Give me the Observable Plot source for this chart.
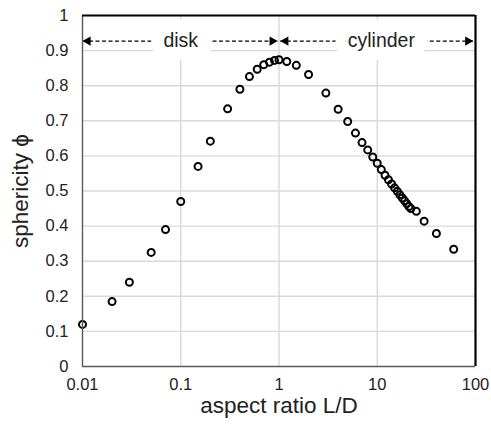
<!DOCTYPE html>
<html>
<head>
<meta charset="utf-8">
<script src="https://cdn.jsdelivr.net/npm/d3@7"></script>
<script src="https://cdn.jsdelivr.net/npm/@observablehq/plot@0.6"></script>
<style>
  html, body { margin: 0; padding: 0; background: #fff; }
</style>
</head>
<body>
<div id="chart"></div>
<script>
// Sphericity of cylinders and disks as a function of their aspect ratio L/D
const aspectRatio = [0.01, 0.02, 0.03, 0.05, 0.07, 0.1, 0.15, 0.2, 0.3, 0.4, 0.5, 0.6, 0.7, 0.8, 0.9, 1,
  1.2, 1.5, 2, 3, 4, 5, 6, 7, 8, 9, 10, 11, 12, 13, 14, 15, 16, 17, 18, 19, 20, 21, 22, 25, 30, 40, 60];
const sphericity = [0.12, 0.185, 0.24, 0.325, 0.39, 0.47, 0.57, 0.642, 0.734, 0.79, 0.826, 0.847, 0.86, 0.867, 0.872, 0.874,
  0.869, 0.858, 0.832, 0.779, 0.733, 0.698, 0.665, 0.638, 0.617, 0.597, 0.579, 0.561, 0.545, 0.532, 0.52, 0.509, 0.499, 0.489,
  0.48, 0.472, 0.464, 0.456, 0.45, 0.442, 0.414, 0.379, 0.334];

// Shape regimes marked along the top of the plot
const regimeLabels = ["disk", "cylinder"];
const regimeStart = [0.01, 1.03];
const regimeEnd = [0.97, 95];
const regimeLabelAt = [0.1, 11];
const regimeLevel = 0.927;

// Axis ticks
const xTicks = [0.01, 0.1, 1, 10, 100];
const xTickLabels = ["0.01", "0.1", "1", "10", "100"];
const yTicks = [0, 0.1, 0.2, 0.3, 0.4, 0.5, 0.6, 0.7, 0.8, 0.9, 1];
const yTickLabels = ["0", "0.1", "0.2", "0.3", "0.4", "0.5", "0.6", "0.7", "0.8", "0.9", "1"];

const points = aspectRatio.map((x, i) => ({x, y: sphericity[i]}));
const regimes = regimeLabels.map((label, i) => ({
  label, x1: regimeStart[i], x2: regimeEnd[i], xt: regimeLabelAt[i], y: regimeLevel
}));

const gridColor = "#d9d9d9";
const axisColor = "#595959";

const chart = Plot.plot({
  width: 491,
  height: 426,
  marginLeft: 82,
  marginRight: 16,
  marginTop: 15,
  marginBottom: 60,
  style: {fontFamily: "'Liberation Sans', Arial, sans-serif", background: "#fff"},
  x: {type: "log", domain: [0.01, 100]},
  y: {domain: [0, 1]},
  marks: [
    Plot.gridY(yTicks.slice(1, -1), {stroke: gridColor, strokeOpacity: 1, strokeWidth: 1.4}),
    Plot.gridX(xTicks.slice(1, -1), {stroke: gridColor, strokeOpacity: 1, strokeWidth: 1.4}),
    Plot.axisY(yTicks, {
      tickSize: 0, tickPadding: 14, fontSize: 16.5, fill: "#222", label: null,
      tickFormat: d => yTickLabels[yTicks.indexOf(d)]
    }),
    Plot.axisX(xTicks, {
      tickSize: 0, tickPadding: 12, fontSize: 16.5, fill: "#222", label: null,
      tickFormat: d => xTickLabels[xTicks.indexOf(d)]
    }),
    Plot.text(["aspect ratio L/D"], {
      text: d => d, frameAnchor: "bottom", lineAnchor: "middle", textAnchor: "middle",
      dy: 39, fontSize: 22.5, fill: "#222"
    }),
    Plot.text(["sphericity \u03d5"], {
      text: d => d, frameAnchor: "left", textAnchor: "middle", lineAnchor: "middle",
      rotate: -90, dx: -62, fontSize: 22.5, fill: "#222"
    }),
    Plot.dot(points, {x: "x", y: "y", r: 3.5, stroke: "black", strokeWidth: 2, fill: "none"}),
    // dashed double arrows for the disk and cylinder regimes
    Plot.link(regimes, {
      x1: "x1", x2: "x2", y1: "y", y2: "y",
      stroke: "black", strokeWidth: 1.2, strokeDasharray: "4,2.5"
    }),
    Plot.dot(regimes, {x: "x1", y: "y", symbol: "triangle", r: 3.5, fill: "black", rotate: -90, dx: 5.4}),
    Plot.dot(regimes, {x: "x2", y: "y", symbol: "triangle", r: 3.5, fill: "black", rotate: 90, dx: -5.4}),
    Plot.text(regimes, {
      x: "xt", y: "y", text: "label", fontSize: 19.5, fill: "#222",
      stroke: "white", strokeWidth: 26, strokeLinejoin: "round"
    }),
    // plot area border
    Plot.ruleX([0.01], {stroke: axisColor, strokeWidth: 1.4}),
    Plot.ruleY([0], {stroke: axisColor, strokeWidth: 1.4}),
    Plot.ruleY([1], {stroke: "black", strokeWidth: 2}),
    Plot.ruleX([100], {stroke: "black", strokeWidth: 2.2})
  ]
});

document.getElementById("chart").appendChild(chart);
</script>
</body>
</html>
